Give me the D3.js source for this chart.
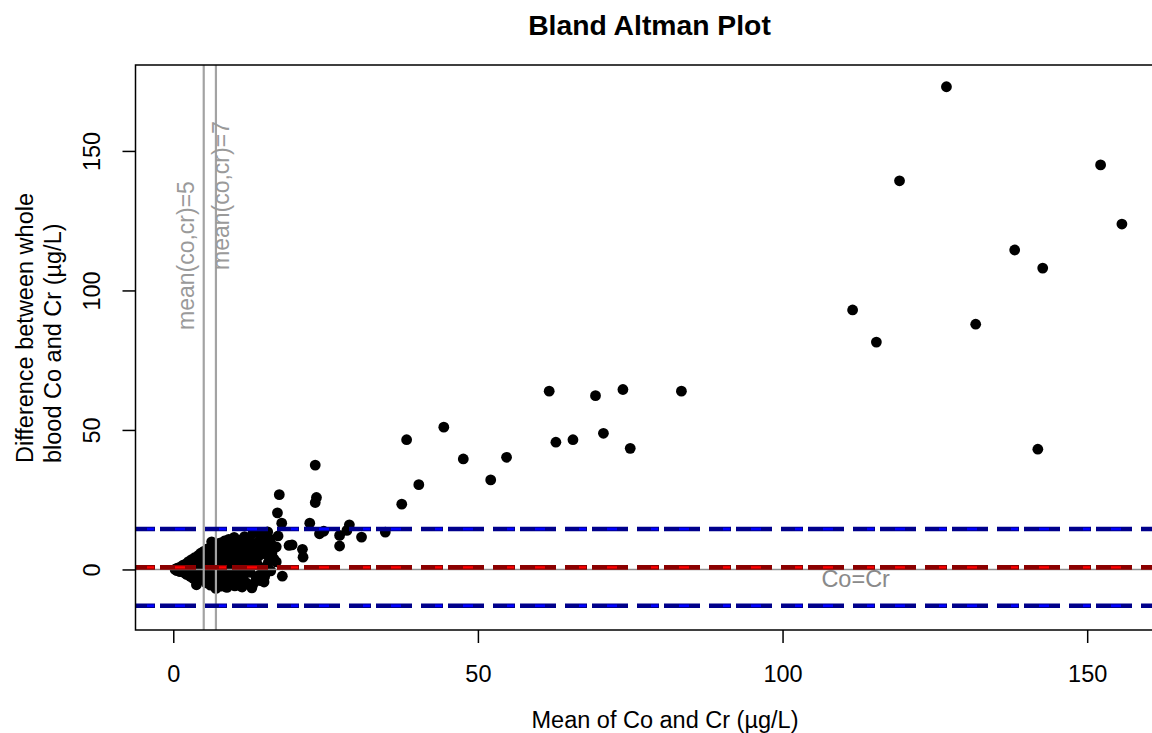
<!DOCTYPE html>
<html>
<head>
<meta charset="utf-8">
<script src="https://cdn.jsdelivr.net/npm/d3@7"></script>
<style>
  html, body { margin: 0; padding: 0; background: #fff; }
  svg text { font-family: "Liberation Sans", Arial, sans-serif; }
</style>
</head>
<body>
<svg id="chart" width="1152" height="733"></svg>
<script>
// ---- data ----
const title = "Bland Altman Plot";
const xLabel = "Mean of Co and Cr (\u00b5g/L)";
const yLabelLines = ["Difference between whole", "blood Co and Cr (\u00b5g/L)"];
const xTicks = [0, 50, 100, 150];
const yTicks = [0, 50, 100, 150];

// mean of Co and Cr
const means = [
  0.3,0.5,0.6,0.8,1.0,1.1,1.3,1.5,1.6,1.8,2.0,2.1,2.2,2.4,2.5,2.7,2.8,3.0,3.1,3.2,
  3.3,3.5,3.6,3.7,3.8,3.9,4.0,4.1,4.2,4.3,4.5,4.6,4.7,4.8,5.0,5.1,5.2,5.3,5.4,5.6,
  5.7,5.8,5.9,6.0,6.1,6.3,6.3,6.4,6.5,6.6,6.7,6.8,6.9,7.0,7.0,7.1,7.2,7.3,7.4,7.5,
  7.6,7.7,7.8,7.9,8.0,8.1,8.2,8.3,8.4,8.5,8.6,8.7,8.8,8.9,9.0,9.1,9.2,9.3,9.3,9.4,
  9.5,9.6,9.8,9.8,9.9,10.0,10.1,10.2,10.3,10.5,10.6,10.7,10.8,11.0,11.1,11.3,11.2,11.3,11.5,11.6,
  11.7,11.8,12.0,12.1,12.2,12.4,12.5,12.6,12.6,12.8,12.9,13.0,13.1,13.1,13.4,13.6,13.7,13.8,14.0,14.1,
  14.2,14.3,14.5,14.7,14.8,14.9,14.9,15.0,15.2,15.4,15.6,15.8,16.0,16.2,16.5,16.9,16.9,17.2,17.9,16.0,
  15.5,14.7,16.6,
  17.4,17.1,17.8,19.0,19.5,21.2,21.3,22.4,23.3,23.5,23.3,24.0,24.7,27.3,27.3,28.5,28.9,30.9,34.8,37.5,
  38.3,40.3,44.4,47.6,52.1,54.7,61.7,62.8,65.6,69.3,70.6,73.8,75.0,83.4,
  111.5,115.4,119.2,126.9,131.7,138.1,141.9,142.7,152.2,155.7
];
// difference Co - Cr
const diffs = [
  0.0,0.3,-0.4,0.6,0.0,-0.8,1.0,-0.3,1.5,-1.2,0.5,2.0,-1.8,-0.6,2.8,1.0,-2.5,3.5,-0.9,1.6,
  -3.2,4.2,0.2,-2.0,-5.5,2.8,-4.0,5.0,1.0,-2.8,5.8,-0.5,3.4,-3.6,6.5,1.8,-1.3,4.2,-4.8,7.4,
  0.5,2.9,-2.6,5.4,-5.6,9.9,3.6,-0.8,1.2,6.8,-3.9,9.0,4.3,-1.9,-6.8,2.3,7.6,-5.0,0.3,5.6,
  9.4,-2.9,3.1,-6.0,8.2,1.5,6.2,-4.3,10.2,-0.6,4.6,2.5,-6.4,7.1,-2.1,10.8,5.5,-5.6,0.8,-4.0,
  8.8,3.5,10.6,-1.2,6.5,11.5,-5.9,2.0,9.2,4.8,-3.2,7.2,0.2,10.5,-6.0,-6.3,5.8,2.8,8.5,-2.0,
  11.8,4.0,-4.8,7.8,1.2,10.0,5.0,9.9,-1.0,8.8,-6.6,3.0,13.1,-5.3,6.5,-3.0,9.5,1.8,4.8,-2.0,
  12.5,-4.0,7.5,0.5,10.2,10.6,-4.5,-2.5,5.5,8.0,2.5,11.0,-0.5,6.0,3.8,8.1,2.7,12.0,-2.4,9.5,
  13.5,9.8,8.0,
  26.8,20.3,16.6,8.6,8.8,7.2,4.4,16.6,37.4,25.8,24.0,12.8,13.7,12.2,8.4,14.0,16.0,11.6,13.4,23.4,
  46.5,30.4,51.0,39.6,32.1,40.2,63.9,45.6,46.5,62.3,48.8,64.5,43.4,63.9,
  93.0,81.5,139.3,173.0,87.9,114.5,43.1,108.0,145.0,123.8
];

const meanDiff = 0.75;      // bias (red line)
const upperLoA = 14.5;      // upper limit of agreement
const lowerLoA = -13.0;     // lower limit of agreement
const refMeans = [5, 7];    // vertical reference lines
const refLabels = ["mean(co,cr)=5", "mean(co,cr)=7"];
const zeroLabel = "Co=Cr";

// ---- layout ----
const W = 1152, H = 733;
const plot = { left: 135.5, top: 65, bottom: 630, right: 1160.3 };
const svg = d3.select("#chart");
svg.append("rect").attr("width", W).attr("height", H).attr("fill", "#fff");

const x = d3.scaleLinear().domain([-6.2, 162]).range([plot.left, plot.right]);
const y = d3.scaleLinear().domain([-21.7, 180.8]).range([plot.bottom, plot.top]);

const FS = 23.5;

// points
const pts = means.map((m, i) => ({ m, d: diffs[i] }));
svg.append("g").selectAll("circle").data(pts).join("circle")
  .attr("cx", d => x(d.m)).attr("cy", d => y(d.d)).attr("r", 5.4)
  .attr("fill", "#000");

// zero line
svg.append("line")
  .attr("x1", plot.left).attr("x2", W).attr("y1", y(0)).attr("y2", y(0))
  .attr("stroke", "#8e8e8e").attr("stroke-width", 1.6);

// vertical reference lines
svg.append("g").selectAll("line").data(refMeans).join("line")
  .attr("x1", d => x(d)).attr("x2", d => x(d))
  .attr("y1", plot.top).attr("y2", plot.bottom)
  .attr("stroke", "#a3a3a3").attr("stroke-width", 2.2);

// dashed lines (dark base + bright overlay)
function dashedLine(val, baseColor, topColor) {
  const yy = y(val);
  svg.append("line")
    .attr("x1", plot.left).attr("x2", W).attr("y1", yy).attr("y2", yy)
    .attr("stroke", baseColor).attr("stroke-width", 4.6)
    .attr("stroke-dasharray", "22,5,36,9").attr("stroke-dashoffset", 2.5);
  svg.append("line")
    .attr("x1", plot.left).attr("x2", W).attr("y1", yy).attr("y2", yy)
    .attr("stroke", topColor).attr("stroke-width", 2.4)
    .attr("stroke-dasharray", "7,21,10,34").attr("stroke-dashoffset", 60.5);
}
dashedLine(upperLoA, "#00008B", "#0000FF");
dashedLine(lowerLoA, "#00008B", "#0000FF");
dashedLine(meanDiff, "#8B0000", "#FF0000");

// reference labels
const refLabelPos = [
  { bx: 194, yStart: 330 },
  { bx: 229, yStart: 270 }
];
refLabels.forEach((t, i) => {
  svg.append("text")
    .attr("transform", `translate(${refLabelPos[i].bx},${refLabelPos[i].yStart}) rotate(-90)`)
    .attr("text-anchor", "start")
    .attr("font-size", 23)
    .attr("fill", "#9a9a9a")
    .text(t);
});

// Co=Cr label
svg.append("text")
  .attr("x", x(112)).attr("y", 587)
  .attr("text-anchor", "middle")
  .attr("font-size", FS)
  .attr("fill", "#8a8a8a")
  .text(zeroLabel);

// plot box (right side runs past the window)
svg.append("rect")
  .attr("x", plot.left).attr("y", plot.top)
  .attr("width", plot.right - plot.left).attr("height", plot.bottom - plot.top)
  .attr("fill", "none").attr("stroke", "#000").attr("stroke-width", 1.5);

// x axis
const gx = svg.append("g").attr("transform", `translate(0,${plot.bottom})`)
  .call(d3.axisBottom(x).tickValues(xTicks).tickSize(13).tickPadding(22.3).tickFormat(d3.format("d")));
gx.select(".domain").remove();
gx.selectAll("line").attr("stroke", "#000").attr("stroke-width", 1.5);
gx.selectAll("text").attr("font-size", FS).attr("fill", "#000")
  .attr("font-family", "Liberation Sans, Arial, sans-serif");

// y axis
const gy = svg.append("g").attr("transform", `translate(${plot.left},0)`)
  .call(d3.axisLeft(y).tickValues(yTicks).tickSize(13).tickFormat(d3.format("d")));
gy.select(".domain").remove();
gy.selectAll("line").attr("stroke", "#000").attr("stroke-width", 1.5);
gy.selectAll("text")
  .attr("x", null).attr("dy", null)
  .attr("text-anchor", "middle")
  .attr("transform", "translate(-35.5,0) rotate(-90)")
  .attr("font-size", FS).attr("fill", "#000")
  .attr("font-family", "Liberation Sans, Arial, sans-serif");

// title
svg.append("text")
  .attr("x", 649.5).attr("y", 35)
  .attr("text-anchor", "middle")
  .attr("font-size", 28.3).attr("font-weight", "bold")
  .attr("fill", "#000")
  .text(title);

// x label
svg.append("text")
  .attr("x", 665).attr("y", 728)
  .attr("text-anchor", "middle")
  .attr("font-size", FS).attr("fill", "#000")
  .text(xLabel);

// y label (two lines)
const yLabBase = [33, 61];
yLabelLines.forEach((t, i) => {
  svg.append("text")
    .attr("transform", `translate(${yLabBase[i]},463) rotate(-90)`)
    .attr("text-anchor", "start")
    .attr("font-size", FS).attr("fill", "#000")
    .text(t);
});
</script>
</body>
</html>
